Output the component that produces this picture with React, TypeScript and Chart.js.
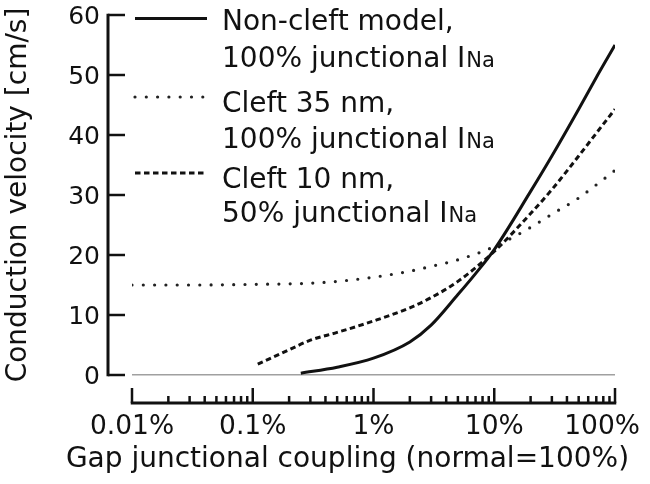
import React, { useEffect, useRef } from "react";
import { Chart, registerables } from "chart.js";

Chart.register(...registerables);

// ---- data ----
const NONCLEFT_X = [0.25, 0.5, 1, 2, 3, 5, 7, 10, 20, 30, 50, 70, 100];
const NONCLEFT_Y = [0.3, 1.3, 2.8, 5.5, 8.3, 13.4, 16.9, 20.9, 30.6, 36.5, 44.3, 49.6, 55.0];

const CLEFT35_X = [0.01, 0.03, 0.1, 0.3, 0.5, 1, 2, 3, 5, 10, 20, 30, 50, 70, 100];
const CLEFT35_Y = [15.0, 15.0, 15.1, 15.3, 15.6, 16.3, 17.3, 18.1, 19.2, 21.4, 24.6, 26.8, 29.5, 31.7, 34.1];

const CLEFT10_X = [0.11, 0.2, 0.3, 0.5, 1, 2, 3, 5, 10, 20, 30, 50, 70, 100];
const CLEFT10_Y = [1.8, 4.2, 5.8, 7.1, 9.0, 11.2, 12.9, 15.6, 20.6, 26.9, 30.9, 36.5, 40.3, 44.3];

const SERIES_LINE1 = ["Non-cleft model,", "Cleft 35 nm,", "Cleft 10 nm,"];
const SERIES_LINE2 = ["100% junctional I", "100% junctional I", "50% junctional I"];
const SERIES_SUB = "Na";

const X_MIN = 0.01;
const X_MAX = 100;
const X_DECADES = [0.01, 0.1, 1, 10, 100];
const X_TICK_LABELS = ["0.01%", "0.1%", "1%", "10%", "100%"];
const Y_MIN = 0;
const Y_MAX = 60;
const Y_STEP = 5;

const X_TITLE = "Gap junctional coupling (normal=100%)";
const Y_TITLE = "Conduction velocity [cm/s]";

const FONT = "DejaVu Sans";
const INK = "#111";

function pts(xs: number[], ys: number[]) {
  return xs.map((x, i) => ({ x, y: ys[i] }));
}

function buildXTicks() {
  const out: { value: number }[] = [];
  for (let d = 0; d < X_DECADES.length - 1; d++) {
    for (let m = 1; m < 10; m++) {
      out.push({ value: Number((X_DECADES[d] * m).toPrecision(3)) });
    }
  }
  out.push({ value: X_DECADES[X_DECADES.length - 1] });
  return out;
}

const customPlugin = {
  id: "customAxesLegend",
  afterDraw(chart: any) {
    const { ctx, chartArea: ca } = chart;
    const xs = chart.scales.x;
    const ys = chart.scales.y;
    const axisX = ca.left - 24;
    const axisY = ca.bottom + 28;
    ctx.save();
    ctx.strokeStyle = INK;
    ctx.fillStyle = INK;
    ctx.lineCap = "butt";
    ctx.setLineDash([]);

    // y axis line + ticks
    ctx.lineWidth = 3;
    ctx.beginPath();
    ctx.moveTo(axisX, ys.getPixelForValue(Y_MAX) - 1.25);
    ctx.lineTo(axisX, ys.getPixelForValue(Y_MIN) + 1.25);
    ctx.stroke();
    ctx.lineWidth = 2.5;
    ys.ticks.forEach((t: any) => {
      const py = ys.getPixelForValue(t.value);
      const len = t.value % 10 === 0 ? 17 : 10;
      ctx.beginPath();
      ctx.moveTo(axisX, py);
      ctx.lineTo(axisX + len, py);
      ctx.stroke();
    });

    // x axis line + ticks
    ctx.lineWidth = 3;
    ctx.beginPath();
    ctx.moveTo(xs.getPixelForValue(X_MIN) - 1.25, axisY);
    ctx.lineTo(xs.getPixelForValue(X_MAX) + 1.25, axisY);
    ctx.stroke();
    ctx.lineWidth = 2.5;
    xs.ticks.forEach((t: any) => {
      const px = xs.getPixelForValue(t.value);
      const major = X_DECADES.some((d) => Math.abs(d - t.value) < d * 1e-6);
      const len = major ? 15 : 7;
      ctx.beginPath();
      ctx.moveTo(px, axisY);
      ctx.lineTo(px, axisY - len);
      ctx.stroke();
    });

    // x tick labels
    ctx.font = `26.5px "${FONT}"`;
    ctx.textAlign = "center";
    ctx.textBaseline = "alphabetic";
    X_DECADES.forEach((v, i) => {
      const label = X_TICK_LABELS[i];
      const w = ctx.measureText(label).width;
      let cx = xs.getPixelForValue(v);
      if (cx + w / 2 > chart.width - 10) cx = chart.width - 10 - w / 2;
      ctx.fillText(label, cx, axisY + 30.5);
    });

    // x title
    ctx.font = `28px "${FONT}"`;
    ctx.fillText(X_TITLE, 347.5, axisY + 63.5);

    // legend
    const sampleY = [18.5, 97, 173];
    const baselines = [
      [30, 67],
      [112, 148],
      [188, 222],
    ];
    const sx0 = 135;
    const sx1 = 207;
    const tx = 222;
    chart.data.datasets.forEach((ds: any, i: number) => {
      ctx.save();
      ctx.strokeStyle = ds.borderColor;
      ctx.lineWidth = ds.borderWidth;
      ctx.lineCap = ds.borderCapStyle || "butt";
      ctx.setLineDash(ds.borderDash || []);
      ctx.beginPath();
      ctx.moveTo(sx0, sampleY[i]);
      ctx.lineTo(sx1, sampleY[i]);
      ctx.stroke();
      ctx.restore();

      ctx.textAlign = "left";
      ctx.font = `28px "${FONT}"`;
      ctx.fillText(SERIES_LINE1[i], tx, baselines[i][0]);
      ctx.fillText(SERIES_LINE2[i], tx, baselines[i][1]);
      const w = ctx.measureText(SERIES_LINE2[i]).width;
      ctx.font = `21px "${FONT}"`;
      ctx.fillText(SERIES_SUB, tx + w + 1, baselines[i][1]);
    });

    ctx.restore();
  },
};

export default function App() {
  const ref = useRef<HTMLCanvasElement | null>(null);

  useEffect(() => {
    if (!ref.current) return;
    Chart.defaults.font.family = FONT;
    const chart = new Chart(ref.current, {
      type: "line",
      data: {
        datasets: [
          {
            label: "Non-cleft model, 100% junctional INa",
            data: pts(NONCLEFT_X, NONCLEFT_Y),
            borderColor: INK,
            borderWidth: 3,
            pointRadius: 0,
            cubicInterpolationMode: "monotone",
            fill: false,
          },
          {
            label: "Cleft 35 nm, 100% junctional INa",
            data: pts(CLEFT35_X, CLEFT35_Y),
            borderColor: "#222",
            borderWidth: 3.2,
            borderDash: [0, 11.3],
            borderCapStyle: "round",
            pointRadius: 0,
            cubicInterpolationMode: "monotone",
            fill: false,
          },
          {
            label: "Cleft 10 nm, 50% junctional INa",
            data: pts(CLEFT10_X, CLEFT10_Y),
            borderColor: INK,
            borderWidth: 3,
            borderDash: [5.5, 3.5],
            borderCapStyle: "butt",
            pointRadius: 0,
            cubicInterpolationMode: "monotone",
            fill: false,
          },
        ],
      } as any,
      options: {
        responsive: false,
        animation: false,
        layout: { padding: { top: 15, right: 35, left: 0, bottom: 0 } },
        plugins: {
          legend: { display: false },
          tooltip: { enabled: false },
        },
        scales: {
          x: {
            type: "logarithmic",
            min: X_MIN,
            max: X_MAX,
            grid: { display: false },
            border: { display: false },
            ticks: { display: false },
            afterBuildTicks: (s: any) => {
              s.ticks = buildXTicks();
            },
            afterFit: (s: any) => {
              s.height = 109;
              s.paddingLeft = 0;
              s.paddingRight = 0;
            },
          },
          y: {
            min: Y_MIN,
            max: Y_MAX,
            grid: {
              drawTicks: false,
              lineWidth: 1.5,
              color: (c: any) =>
                c.tick && c.tick.value === 0 ? "#a0a0a0" : "rgba(0,0,0,0)",
            },
            border: { display: false },
            ticks: {
              stepSize: Y_STEP,
              padding: 32,
              labelOffset: 2.5,
              color: INK,
              font: { size: 25, family: FONT },
              callback: (v: any) => (Number(v) % 10 === 0 ? String(v) : ""),
            },
            title: {
              display: true,
              text: Y_TITLE,
              color: INK,
              font: { size: 28, family: FONT },
              padding: { top: 2, bottom: 0 },
            },
            afterFit: (s: any) => {
              s.width = 132;
              s.paddingTop = 0;
              s.paddingBottom = 0;
            },
          },
        },
      } as any,
      plugins: [customPlugin],
    });
    return () => chart.destroy();
  }, []);

  return (
    <div style={{ position: "fixed", left: 0, top: 0, width: 650, height: 484, background: "#fff" }}>
      <canvas ref={ref} width={650} height={484} style={{ display: "block" }} />
    </div>
  );
}
